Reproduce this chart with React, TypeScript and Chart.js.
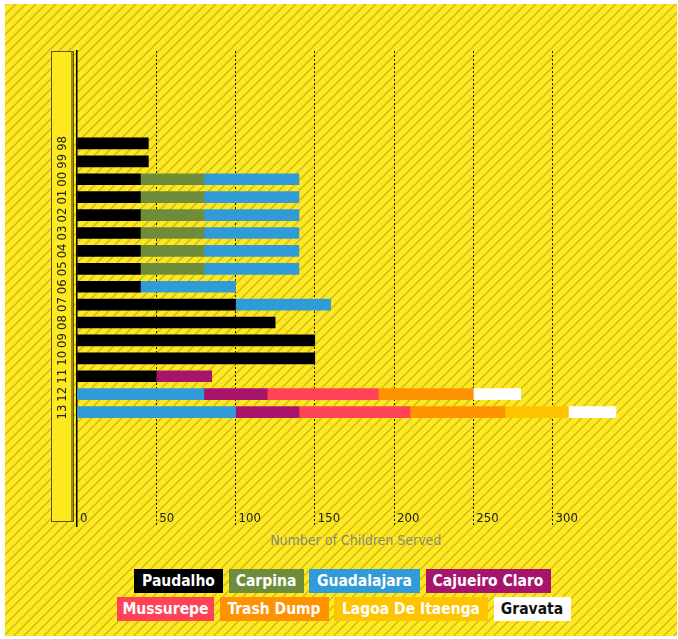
import React, { useEffect, useRef } from 'react';
import { Chart, registerables } from 'chart.js';
Chart.register(...registerables);

const years = ['98', '99', '00', '01', '02', '03', '04', '05', '06', '07', '08', '09', '10', '11', '12', '13'];
const seriesNames = ['Paudalho', 'Carpina', 'Guadalajara', 'Cajueiro Claro', 'Mussurepe', 'Trash Dump', 'Lagoa De Itaenga', 'Gravata'];
const paudalho = [45, 45, 40, 40, 40, 40, 40, 40, 40, 100, 125, 150, 150, 50, null, null];
const carpina = [null, null, 40, 40, 40, 40, 40, 40, null, null, null, null, null, null, null, null];
const guadalajara = [null, null, 60, 60, 60, 60, 60, 60, 60, 60, null, null, null, null, 80, 100];
const cajueiroClaro = [null, null, null, null, null, null, null, null, null, null, null, null, null, 35, 40, 40];
const mussurepe = [null, null, null, null, null, null, null, null, null, null, null, null, null, null, 70, 70];
const trashDump = [null, null, null, null, null, null, null, null, null, null, null, null, null, null, 60, 60];
const lagoaDeItaenga = [null, null, null, null, null, null, null, null, null, null, null, null, null, null, null, 40];
const gravata = [null, null, null, null, null, null, null, null, null, null, null, null, null, null, 30, 30];
const xTicks = [0, 50, 100, 150, 200, 250, 300];

const seriesValues = [paudalho, carpina, guadalajara, cajueiroClaro, mussurepe, trashDump, lagoaDeItaenga, gravata];
const seriesColors = ['#000000', '#6e8c3a', '#309bd6', '#a8146c', '#ff4255', '#ff9200', '#ffc400', '#ffffff'];
const legendText = ['#fff', '#fff', '#fff', '#fff', '#fff', '#fff', '#fff', '#111'];
const legendWidths = [89, 75, 111, 125, 97, 109, 154, 77];

const FONT = "'DejaVu Sans Condensed', 'DejaVu Sans', sans-serif";
const LEGEND_FONT = "'DejaVu Sans Condensed', 'DejaVu Sans', sans-serif";

const boxPlugin = {
  id: 'yLabelBox',
  beforeDraw(chart: any) {
    const ctx = chart.ctx;
    ctx.save();
    ctx.fillStyle = '#fde91d';
    ctx.fillRect(46, 47, 23, 471);
    ctx.strokeStyle = '#5e5600';
    ctx.lineWidth = 1;
    ctx.strokeRect(46.5, 47.5, 22, 470);
    ctx.fillStyle = 'rgba(70,62,0,0.55)';
    ctx.fillRect(66, 48, 2, 469);
    ctx.restore();
  },
};

export default function App() {
  const ref = useRef<HTMLCanvasElement>(null);
  useEffect(() => {
    if (!ref.current) return;
    const chart = new Chart(ref.current, {
      type: 'bar',
      data: {
        datasets: seriesValues.map((vals, s) => ({
          label: seriesNames[s],
          data: vals
            .map((v, i) => ({ x: v, y: i }))
            .filter((p) => p.x !== null) as any,
          backgroundColor: seriesColors[s],
          borderWidth: 0,
          barThickness: 11,
        })),
      },
      options: {
        indexAxis: 'y',
        animation: false,
        responsive: false,
        maintainAspectRatio: false,
        layout: { padding: { top: 47, right: 42, bottom: 10, left: 0 } },
        plugins: { legend: { display: false }, tooltip: { enabled: false } },
        scales: {
          x: {
            type: 'linear',
            stacked: true,
            min: 0,
            max: 352,
            afterBuildTicks: (s: any) => {
              s.ticks = xTicks.map((v) => ({ value: v }));
            },
            afterFit: (s: any) => {
              s.height = 28;
            },
            grid: {
              drawTicks: false,
              lineWidth: 1,
              color: (c: any) => (c.tick && c.tick.value === 0 ? 'rgba(0,0,0,0)' : '#1a1a1a'),
            },
            border: { display: false, dash: [2, 2] },
            ticks: {
              align: 'start',
              mirror: true,
              padding: 0,
              labelOffset: 3,
              color: '#222',
              font: { family: FONT, size: 13 },
              autoSkip: false,
              maxRotation: 0,
            },
            title: {
              display: true,
              text: 'Number of Children Served',
              color: '#868680',
              font: { family: FONT, size: 14 },
              padding: { top: 0, bottom: 4 },
            },
          },
          y: {
            type: 'linear',
            reverse: true,
            stacked: true,
            min: -4.33,
            max: 20.53,
            afterBuildTicks: (s: any) => {
              s.ticks = years.map((_, i) => ({ value: i }));
            },
            afterFit: (s: any) => {
              s.width = 72;
            },
            grid: { display: false, drawTicks: false },
            border: { display: true, color: '#000', width: 1.5 },
            ticks: {
              callback: (v: any) => years[v] ?? '',
              minRotation: 90,
              maxRotation: 90,
              crossAlign: 'center',
              padding: 7,
              color: '#222',
              font: { family: FONT, size: 13 },
              autoSkip: false,
            },
          },
        },
      } as any,
      plugins: [boxPlugin],
    });
    return () => chart.destroy();
  }, []);

  const legendItem = (i: number) => (
    <div
      key={i}
      style={{
        width: legendWidths[i],
        height: 24,
        lineHeight: '24px',
        boxSizing: 'border-box',
        background: seriesColors[i],
        color: legendText[i],
        fontFamily: LEGEND_FONT,
        fontWeight: 'bold',
        fontSize: 15.5,
        textAlign: 'center',
        marginRight: 5.5,
        whiteSpace: 'nowrap',
      }}
    >
      {seriesNames[i]}
    </div>
  );

  return (
    <div
      style={{
        position: 'absolute',
        left: 5,
        top: 4,
        width: 672,
        height: 632,
        background:
          'repeating-linear-gradient(135deg, #d2bd26 0px, #d2bd26 1.1px, #fde91d 1.6px, #fde91d 7.07px)',
      }}
    >
      <canvas ref={ref} width={672} height={560} style={{ position: 'absolute', left: 0, top: 0 }} />
      <div style={{ position: 'absolute', left: 129, top: 565, display: 'flex' }}>
        {[0, 1, 2, 3].map(legendItem)}
      </div>
      <div style={{ position: 'absolute', left: 112, top: 593, display: 'flex' }}>
        {[4, 5, 6, 7].map(legendItem)}
      </div>
    </div>
  );
}
